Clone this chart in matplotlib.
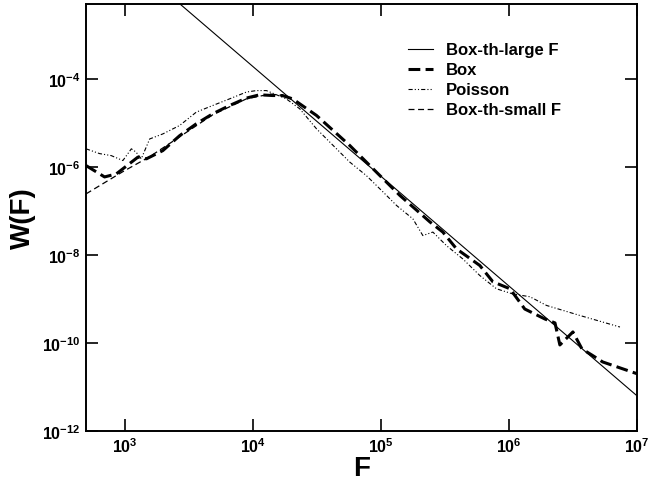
import matplotlib
matplotlib.use("Agg")
import matplotlib.pyplot as plt

plt.rcParams["font.family"] = ["Liberation Sans", "DejaVu Sans"]
plt.rcParams["font.weight"] = "bold"
plt.rcParams["mathtext.fontset"] = "custom"
plt.rcParams["mathtext.rm"] = "Liberation Sans:bold"
plt.rcParams["mathtext.bf"] = "Liberation Sans:bold"
plt.rcParams["lines.scale_dashes"] = False

# values
large_f = [2.5e3, 1e7]
large_w = [6.1e-3, 6.3e-12]

box_f = [500, 698, 861, 1270, 1480, 1990, 2690, 3630, 4870, 6600, 8930,
         1.13e4, 1.43e4, 1.71e4, 2.05e4, 3.15e4, 5.73e4, 9.25e4, 1.41e5,
         2.42e5, 3.05e5, 3.9e5, 5.93e5, 7.5e5, 1.02e6, 1.33e6, 1.91e6,
         2.29e6, 2.5e6, 3.16e6, 3.72e6, 4.45e6, 5.4e6, 1e7]
box_w = [1.07e-6, 5.9e-7, 6.9e-7, 1.66e-6, 1.52e-6, 2.34e-6, 5.1e-6, 9.5e-6,
         1.6e-5, 2.47e-5, 3.64e-5, 4.33e-5, 4.17e-5, 4.17e-5, 3.5e-5, 1.47e-5,
         3.05e-6, 7.58e-7, 2.24e-7, 5.6e-8, 3.3e-8, 1.37e-8, 5.75e-9, 2.45e-9,
         1.7e-9, 5.9e-10, 3.5e-10, 2.85e-10, 9e-11, 1.78e-10, 7.3e-11, 5.3e-11,
         3.7e-11, 2e-11]

poisson_f = [500, 638, 787, 970, 1130, 1230, 1350, 1570, 1990, 2690, 3630,
             4870, 6600, 8930, 1.07e4, 1.28e4, 1.83e4, 2.33e4, 3.15e4, 4.51e4,
             5.73e4, 7.73e4, 1.04e5, 1.33e5, 1.78e5, 2.13e5, 2.55e5, 3.26e5,
             4.37e5, 5.93e5, 8.0e5, 1.07e6, 1.46e6, 1.97e6, 3.59e6, 7.36e6]
poisson_w = [2.57e-6, 2.0e-6, 1.8e-6, 1.39e-6, 2.57e-6, 2.16e-6, 1.52e-6,
             4.3e-6, 5.6e-6, 8.7e-6, 1.75e-5, 2.47e-5, 3.5e-5, 5.0e-5, 5.4e-5,
             5.4e-5, 3.5e-5, 2.08e-5, 7.3e-6, 2.57e-6, 1.28e-6, 6.3e-7, 2.7e-7,
             1.32e-7, 6.6e-8, 2.75e-8, 3.3e-8, 1.62e-8, 8.1e-9, 3.4e-9, 1.7e-9,
             1.3e-9, 1.12e-9, 7.1e-10, 4.2e-10, 2.3e-10]

small_f = [500, 964, 1570, 2690, 4870, 8930, 1.37e4, 1.7e4]
small_w = [2.43e-7, 7.7e-7, 1.7e-6, 4.8e-6, 1.52e-5, 3.5e-5, 4.5e-5, 4.2e-5]

xticks = [1e3, 1e4, 1e5, 1e6, 1e7]
xticklabels = [r"$10^{3}$", r"$10^{4}$", r"$10^{5}$", r"$10^{6}$", r"$10^{7}$"]
yticks = [1e-12, 1e-10, 1e-8, 1e-6, 1e-4]
yticklabels = [r"$10^{-12}$", r"$10^{-10}$", r"$10^{-8}$", r"$10^{-6}$", r"$10^{-4}$"]

fig = plt.figure(figsize=(6.49, 4.89), dpi=100)
ax = fig.add_axes([86 / 649, 1 - 432 / 489, 551 / 649, 427 / 489])

ax.plot(large_f, large_w, color="black", lw=0.8, label="Box-th-large F")
ax.plot(box_f, box_w, color="black", lw=2.2, dashes=(8.5, 3.8), label="Box")
ax.plot(poisson_f, poisson_w, color="black", lw=0.8,
        dashes=(3, 1.5, 0.8, 1.5, 0.8, 1.5), label="Poisson")
ax.plot(small_f, small_w, color="black", lw=0.9, dashes=(4.3, 2.6),
        label="Box-th-small F")

ax.set_xscale("log")
ax.set_yscale("log")
ax.set_xlim(500, 1e7)
ax.set_ylim(1e-12, 5e-3)
ax.set_xticks(xticks)
ax.set_xticklabels(xticklabels)
ax.set_yticks(yticks)
ax.set_yticklabels(yticklabels)
ax.minorticks_off()
ax.tick_params(which="major", direction="in", length=8.5, width=1.2,
               top=True, right=True, labelsize=11.5, pad=4)
for s in ax.spines.values():
    s.set_linewidth(1.4)

ax.set_xlabel("F", fontsize=20, fontweight="bold", labelpad=0)
ax.set_ylabel("W(F)", fontsize=20, fontweight="bold", labelpad=4)

leg = ax.legend(loc="upper left", bbox_to_anchor=(0.584, 0.91), frameon=False,
                fontsize=12, handlelength=1.5, handletextpad=0.78,
                labelspacing=0.3, borderpad=0, borderaxespad=0)
for t in leg.get_texts():
    t.set_fontweight("bold")

fig.savefig("out.png", dpi=100)
